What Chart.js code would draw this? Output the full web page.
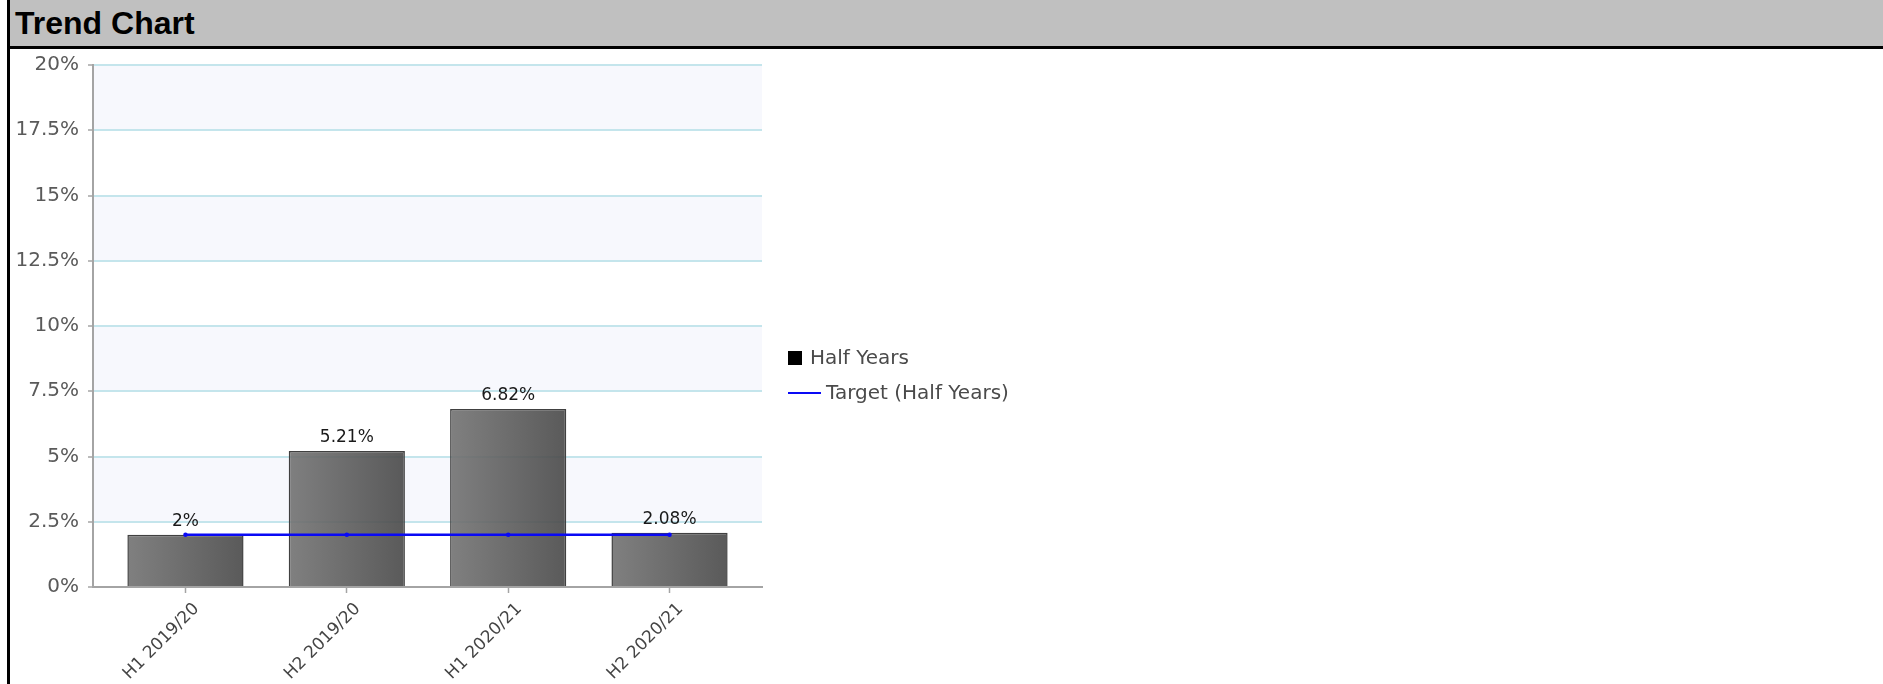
<!DOCTYPE html>
<html>
<head>
<meta charset="utf-8">
<title>Trend Chart</title>
<script src="https://cdn.jsdelivr.net/npm/chart.js@4.4.1/dist/chart.umd.min.js"></script>
<style>
  html, body { margin: 0; padding: 0; background: #ffffff; }
  body { width: 1883px; height: 684px; overflow: hidden; position: relative; }
  #frame {
    position: absolute; left: 7px; top: 0; right: 0; bottom: 0;
    border-left: 3px solid #000000;
  }
  #header {
    height: 46px; line-height: 46px;
    background: #c0c0c0;
    border-bottom: 3px solid #000000;
    font-family: "Liberation Sans", Arial, sans-serif;
    font-weight: bold; font-size: 32px; color: #000000;
    padding-left: 5px;
    white-space: nowrap;
  }
  #plot { position: relative; width: 1873px; height: 635px; }
</style>
</head>
<body>
<div id="frame">
  <div id="header">Trend Chart</div>
  <div id="plot"><canvas id="trend"></canvas></div>
</div>
<script>
// Half-year periods on the category axis
const categories = ['H1 2019/20', 'H2 2019/20', 'H1 2020/21', 'H2 2020/21'];
// Actual result per half year, in percent
const halfYearValues = [2, 5.21, 6.82, 2.08];
// Target per half year, in percent
const targetValues = [2, 2, 2, 2];
// Value axis range and step, in percent
const yAxisMin = 0;
const yAxisMax = 20;
const yAxisStep = 2.5;

const seriesNames = ['Half Years', 'Target (Half Years)'];

const FONT = '"DejaVu Sans", Verdana, sans-serif';
Chart.defaults.font.family = FONT;

const fmtPct = v => (Math.round(v * 100) / 100) + '%';

// Horizontal shading gradient for each bar, lighter on the left
function barFill(ctx) {
  const chart = ctx.chart;
  const xs = chart.scales.x;
  if (!chart.chartArea || !xs) return 'rgba(100,100,100,0.9)';
  const cx = xs.getPixelForValue(ctx.dataIndex);
  const half = Math.abs(xs.getPixelForValue(1) - xs.getPixelForValue(0)) * 0.36;
  const g = chart.ctx.createLinearGradient(cx - half, 0, cx + half, 0);
  g.addColorStop(0, 'rgba(114,114,114,0.9)');
  g.addColorStop(1, 'rgba(72,72,72,0.9)');
  return g;
}

// Alternating pale bands behind the grid
const bandPlugin = {
  id: 'bands',
  beforeDraw(chart) {
    const { ctx, chartArea: a, scales: { y } } = chart;
    ctx.save();
    ctx.fillStyle = '#ffffff';
    ctx.fillRect(0, 0, chart.width, chart.height);
    ctx.fillStyle = '#f7f8fd';
    y.ticks.forEach((t, i) => {
      if (i % 2 === 1 && i + 1 < y.ticks.length) {
        const top = y.getPixelForValue(y.ticks[i + 1].value);
        const bot = y.getPixelForValue(t.value);
        ctx.fillRect(a.left, top, a.right - a.left, bot - top);
      }
    });
    ctx.restore();
  }
};

// Value labels above each bar
const valueLabelPlugin = {
  id: 'valueLabels',
  afterDatasetsDraw(chart) {
    const { ctx } = chart;
    const meta = chart.getDatasetMeta(0);
    ctx.save();
    ctx.font = '17px ' + FONT;
    ctx.fillStyle = '#1a1a1a';
    ctx.textAlign = 'center';
    ctx.textBaseline = 'bottom';
    meta.data.forEach((bar, i) => {
      ctx.fillText(fmtPct(halfYearValues[i]), bar.x, bar.y - 5);
    });
    ctx.restore();
  }
};

// Legend to the right of the plot: square swatch for bars, line swatch for target
const sideLegendPlugin = {
  id: 'sideLegend',
  afterDraw(chart) {
    const { ctx, chartArea: a } = chart;
    const x0 = a.right + 26;
    const mid = chart.height / 2 + 9;
    const rowGap = 35;
    const ds = chart.data.datasets;
    ctx.save();
    ctx.font = '20px ' + FONT;
    ctx.textBaseline = 'middle';
    ctx.textAlign = 'left';
    // bar series
    let y = mid - rowGap / 2;
    ctx.fillStyle = '#000000';
    ctx.fillRect(x0, y - 7, 14, 14);
    ctx.fillStyle = '#4a4a4a';
    ctx.fillText(ds[0].label, x0 + 22, y + 1);
    // target series
    y = mid + rowGap / 2;
    ctx.strokeStyle = ds[1].borderColor;
    ctx.lineWidth = 2;
    ctx.beginPath();
    ctx.moveTo(x0, y);
    ctx.lineTo(x0 + 33, y);
    ctx.stroke();
    ctx.fillText(ds[1].label, x0 + 38, y + 1);
    ctx.restore();
  }
};

const axisGray = '#a4a4a4';

new Chart(document.getElementById('trend'), {
  data: {
    datasets: [
      {
        type: 'bar',
        label: seriesNames[0],
        data: halfYearValues.map((v, i) => ({ x: i, y: v })),
        backgroundColor: barFill,
        borderColor: '#404040',
        borderWidth: 1.5,
        order: 2
      },
      {
        type: 'line',
        label: seriesNames[1],
        data: targetValues.map((v, i) => ({ x: i, y: v })),
        borderColor: '#0a0af5',
        backgroundColor: '#0a0af5',
        borderWidth: 2.5,
        pointRadius: 1,
        pointHoverRadius: 1,
        fill: false,
        order: 1
      }
    ]
  },
  options: {
    responsive: true,
    maintainAspectRatio: false,
    animation: false,
    events: [],
    layout: { padding: { left: 0, top: 16, right: 1121, bottom: 0 } },
    plugins: {
      legend: { display: false },
      tooltip: { enabled: false },
      title: { display: false }
    },
    scales: {
      x: {
        type: 'linear',
        offset: false,
        min: -0.573,
        max: categories.length - 1 + 0.573,
        afterBuildTicks(scale) {
          scale.ticks = categories.map((_, i) => ({ value: i }));
        },
        afterFit(scale) { scale.height = 97; },
        ticks: {
          autoSkip: false,
          maxRotation: 45,
          minRotation: 45,
          color: '#444444',
          font: { size: 17, family: FONT },
          padding: 6,
          labelOffset: 11,
          callback: v => categories[v]
        },
        grid: {
          offset: false,
          drawOnChartArea: false,
          drawTicks: true,
          tickLength: 6,
          tickColor: axisGray,
          tickWidth: 1.5
        },
        border: { display: true, color: axisGray, width: 2 }
      },
      y: {
        type: 'linear',
        min: yAxisMin,
        max: yAxisMax,
        afterFit(scale) {
          scale.width = 83;
          scale.paddingTop = 0;
          scale.paddingBottom = 0;
        },
        ticks: {
          stepSize: yAxisStep,
          color: '#5a5a5a',
          font: { size: 20, family: FONT },
          padding: 9,
          callback: v => v + '%'
        },
        grid: {
          color: '#c4e5ec',
          lineWidth: 2,
          tickColor: axisGray,
          tickLength: 5,
          tickWidth: 1.5
        },
        border: { display: true, color: axisGray, width: 2 }
      }
    }
  },
  plugins: [bandPlugin, valueLabelPlugin, sideLegendPlugin]
});
</script>
</body>
</html>
